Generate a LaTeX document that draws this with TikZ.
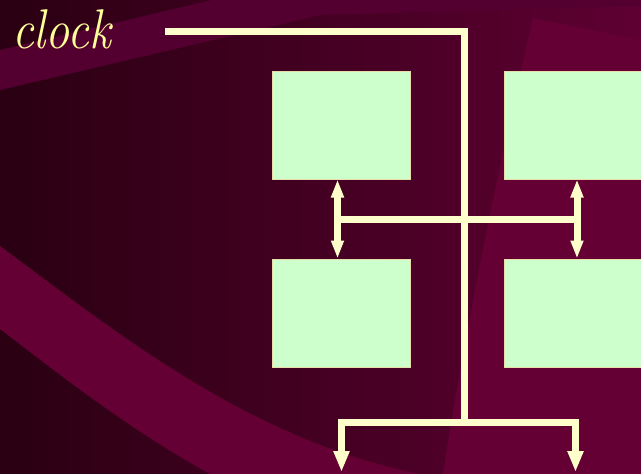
\documentclass[tikz,border=0pt]{standalone}
\usetikzlibrary{arrows.meta}
\definecolor{bgL}{HTML}{2A0012}
\definecolor{bgR}{HTML}{5E0032}
\definecolor{band}{HTML}{640034}
\definecolor{bandtop}{HTML}{530030}
\definecolor{wirec}{HTML}{FFFFCC}
\definecolor{boxfill}{HTML}{CCFFCC}
\definecolor{boxline}{HTML}{E6DDA8}
\definecolor{txt}{HTML}{FFFF99}
\begin{document}
\begin{tikzpicture}[x=1pt,y=-1pt,
 unit/.style={draw=boxline, line width=1pt, fill=boxfill, minimum width=138pt, minimum height=108pt, inner sep=0pt},
 wire/.style={draw=wirec, line width=7pt},
 arr/.style={wire, line join=miter, -{Triangle[width=15pt,length=21pt]}},
 darr/.style={wire, {Triangle[width=12pt,length=18pt]}-{Triangle[width=12pt,length=18pt]}}]
\useasboundingbox (0,0) rectangle (641,474);
\clip (0,0) rectangle (641,474);
% background
\shade[left color=bgL, right color=bgR] (0,0) rectangle (641,474);
\fill[bandtop] (0,50) -- (212,0) -- (641,0) -- (641,6) -- (320,15) -- (0,90) -- cycle;
\fill[band] (533,18) -- (641,40) -- (641,474) -- (443,474) .. controls (465,330) and (500,160) .. (533,18) -- cycle;
\fill[band] (0,246) .. controls (120,335) and (250,440) .. (420,474) -- (210,474) .. controls (130,430) and (60,375) .. (0,329) -- cycle;
% units
\node[unit] (tl) at (341,125) {};
\node[unit] (tr) at (573,125) {};
\node[unit] (bl) at (341,313) {};
\node[unit] (br) at (573,313) {};
% clock
\node[anchor=base west, text=txt, font=\fontsize{56}{60}\selectfont\itshape, inner sep=0pt] (clk) at (12,48) {\scalebox{0.86}[1]{clock}};
\coordinate (c0) at (165,31.5);
\coordinate (c1) at (464,31.5);
\coordinate (c2) at (464,422);
\coordinate (oL) at (341.5,472);
\coordinate (oR) at (575.5,472);
\draw[wire, line join=miter] (c0) -- (c1) -- (c2);
\draw[arr] (c2) -| (oL);
\draw[arr] (c2) -| (oR);
% middle bus
\coordinate (mL) at (337.5,219);
\coordinate (mR) at (577,219);
\draw[wire] (mL) -- (mR);
\draw[darr] (tl.south -| mL) -- (bl.north -| mL);
\draw[darr] (tr.south -| mR) -- (br.north -| mR);
\end{tikzpicture}
\end{document}
